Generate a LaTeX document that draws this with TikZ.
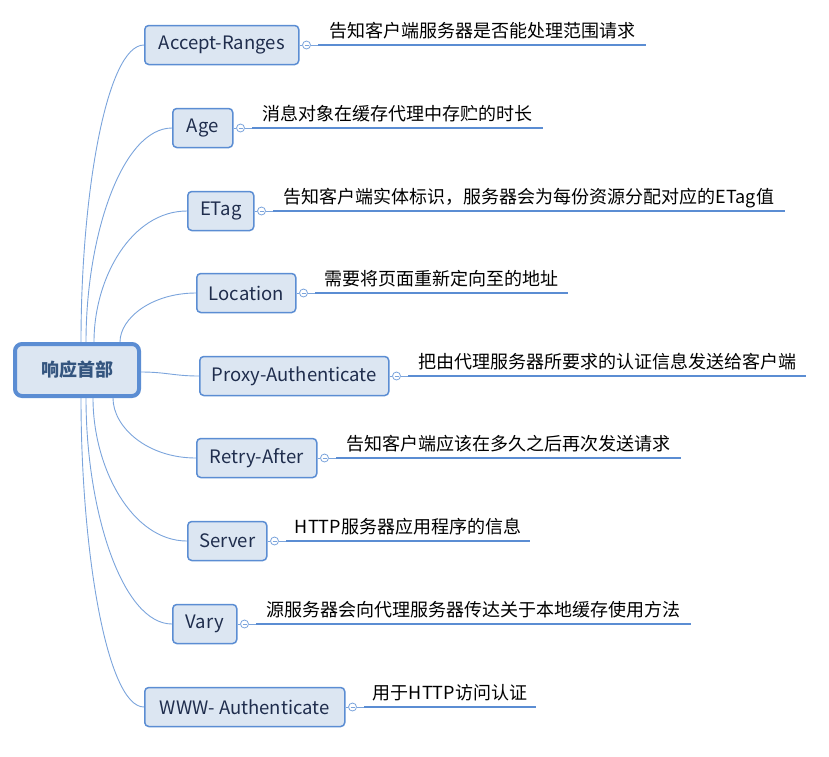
\documentclass[tikz,border=0pt]{standalone}
\usepackage{fontspec}
\setmainfont{Noto Sans CJK SC}
\usetikzlibrary{calc}
\definecolor{bord}{HTML}{5B8DD3}
\definecolor{boxfill}{HTML}{DCE6F2}
\definecolor{conn}{HTML}{7BA4DC}
\definecolor{boxtext}{HTML}{1F2D4D}
\definecolor{roottext}{HTML}{34557F}
\tikzset{
 rootbox/.style={draw=bord, line width=4pt, fill=boxfill, rounded corners=7pt, minimum width=124pt, minimum height=52pt, inner sep=0pt, font=\fontsize{18}{20}\selectfont\bfseries, text=roottext},
 topicbox/.style={draw=bord, line width=1.5pt, fill=boxfill, rounded corners=4pt, minimum height=39pt, anchor=west, inner sep=0pt, font=\fontsize{18.5}{20}\selectfont, text=boxtext},
 link/.style={draw=conn, line width=0.9pt},
 uline/.style={draw=bord, line width=2.6pt},
 desc/.style={anchor=base, inner sep=0pt, font=\fontsize{18}{20}\selectfont, text=black},
 knob/.style={circle, draw=conn, fill=white, line width=0.8pt, minimum size=8pt, inner sep=0pt}
}
\begin{document}
\begin{tikzpicture}[x=1pt,y=-1pt]
\useasboundingbox (0,0) rectangle (829,756);
\node[rootbox] (root) at (77,370) {响应首部};
\foreach \n/\lab/\lx/\cy/\w/\ulend/\txt in {
 1/{Accept-Ranges}/144/45/154/646/{告知客户端服务器是否能处理范围请求},
 2/{Age}/172/128/60/543/{消息对象在缓存代理中存贮的时长},
 3/{ETag}/187/211/66/785/{告知客户端实体标识，服务器会为每份资源分配对应的ETag值},
 4/{Location}/196/293/99/568/{需要将页面重新定向至的地址},
 5/{Proxy-Authenticate}/199/376/189/806/{把由代理服务器所要求的认证信息发送给客户端},
 6/{Retry-After}/196/458/120/681/{告知客户端应该在多久之后再次发送请求},
 7/{Server}/187/541/79/530/{HTTP服务器应用程序的信息},
 8/{Vary}/172/624/64/691/{源服务器会向代理服务器传达关于本地缓存使用方法},
 9/{WWW- Authenticate}/144/707/200/536/{用于HTTP访问认证}}
{
 \node[topicbox, minimum width=\w pt] (c\n) at (\lx,\cy) {\lab};
 \node[knob] (k\n) at ([xshift=7pt]c\n.east) {};
 \draw[conn, line width=0.7pt] ([xshift=-2pt]k\n.center) -- ([xshift=2pt]k\n.center);
 \coordinate (us\n) at ({\lx+\w+20},\cy);
 \coordinate (ue\n) at (\ulend,\cy);
 \draw[link] (c\n.east) -- (k\n.west);
 \draw[link] (k\n.east) -- (us\n);
 \draw[uline] (us\n) -- (ue\n);
 \node[desc] (d\n) at ($(us\n)!0.5!(ue\n)+(0,-8)$) {\txt};
}
\foreach \n/\sx/\od/\id in {1/68/150/37, 2/73/106/50, 3/81/65/55, 4/107/24/44}
 \draw[link] ([xshift=\sx pt]root.north west) .. controls +(0,-\od) and +(-\id,0) .. (c\n.west);
\foreach \n/\sx/\od/\id in {6/100/29/49, 7/80/70/55, 8/73/112/50, 9/68/153/37}
 \draw[link] ([xshift=\sx pt]root.south west) .. controls +(0,\od) and +(-\id,0) .. (c\n.west);
\draw[link] ([yshift=-2pt]root.east) .. controls +(25,0) and +(-25,0) .. (c5.west);
\end{tikzpicture}
\end{document}
